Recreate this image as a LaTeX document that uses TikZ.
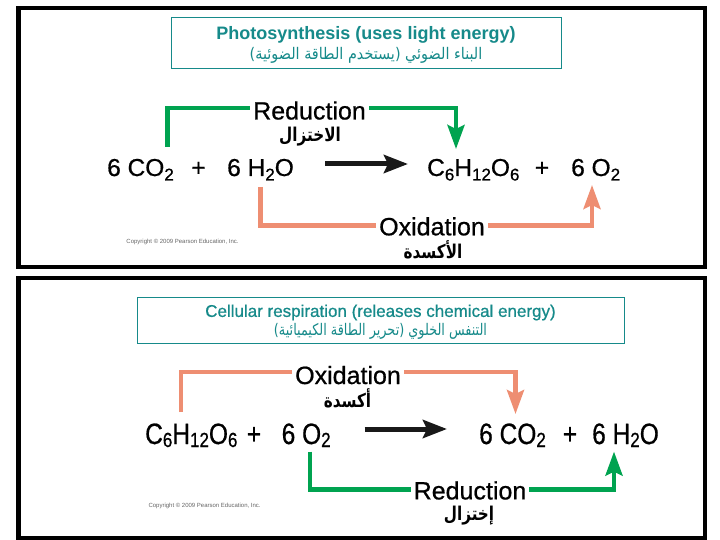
\documentclass[tikz,border=0pt]{standalone}
\usepackage{fontspec}
\setmainfont{Liberation Sans}
\newfontfamily\heavyfont[FakeBold=0.7]{Liberation Sans}
\newfontfamily\arabicfont[Script=Arabic]{DejaVu Sans}
\TeXXeTstate=1
\usetikzlibrary{arrows.meta}
\definecolor{tealc}{RGB}{22,138,138}
\definecolor{grn}{RGB}{0,163,80}
\definecolor{sal}{RGB}{238,142,114}
\newcommand\sbs[1]{\raisebox{-4.5pt}{\fontsize{17}{17}\selectfont #1}}
\newcommand\sbb[1]{\raisebox{-2.5pt}{\fontsize{17}{17}\selectfont #1}}
\newcommand\tallrow[1]{\scalebox{1}[1.2]{#1}}
\newcommand\narrow[2]{\scalebox{#1}[1]{#2}}
\begin{document}
\begin{tikzpicture}[x=1pt,y=-1pt,
  frame/.style={draw=black,line width=4.5pt},
  titlebox/.style={draw=tealc,line width=1pt,rectangle,inner sep=0},
  titleen/.style={text=tealc,inner sep=0,font=\fontsize{18}{20}\selectfont\bfseries},
  titleen2/.style={text=tealc,inner sep=0,font=\heavyfont\fontsize{17}{20}\selectfont},
  titlear/.style={text=tealc,inner sep=0,font=\fontsize{16}{18}\selectfont\arabicfont},
  eq/.style={inner sep=0,anchor=base west,font=\heavyfont\fontsize{24.5}{28}\selectfont},
  plus/.style={inner sep=0,anchor=base,font=\heavyfont\fontsize{24.5}{28}\selectfont},
  lab/.style={inner sep=0,inner xsep=3pt,inner ysep=1pt,fill=white,anchor=base,font=\heavyfont\fontsize{25}{28}\selectfont},
  arlab/.style={inner sep=0,font=\fontsize{19}{22}\selectfont\arabicfont\bfseries},
  copy/.style={inner sep=0,text=black!60,font=\fontsize{6}{7}\selectfont},
  grnline/.style={draw=grn,line width=4.5pt,-{Stealth[width=17pt,length=24pt,inset=4pt]}},
  salline/.style={draw=sal,line width=4.5pt,-{Stealth[width=17pt,length=24pt,inset=4pt]}},
  mainarrow/.style={draw=black!90,line width=5pt,-{Stealth[width=18pt,length=24pt,inset=4pt]}}
]
\useasboundingbox[fill=white] (0,0) rectangle (720,540);

% ---------- top panel ----------
\draw[frame] (18.5,8) rectangle (705,267);
\node[titlebox,minimum width=390pt,minimum height=51pt] (tb1) at (366,43.5) {};
\node[titleen] (t1en) at (366,34.5) {Photosynthesis (uses light energy)};
\node[titlear] (t1ar) at (366,55) {\narrow{0.9}{\beginR البناء الضوئي (يستخدم الطاقة الضوئية)\endR}};

\node[eq] (co2a) at (107,176) {6 CO\sbs{2}};
\node[plus] (p1) at (198.5,176) {+};
\node[eq] (h2oa) at (227,176) {6 H\sbs{2}O};
\node[eq] (glua) at (427,176) {C\sbs{6}H\sbs{12}O\sbs{6}};
\node[plus] (p2) at (542,176) {+};
\node[eq] (o2a) at (571,176) {6 O\sbs{2}};
\coordinate (ma1) at (325,164);
\coordinate (mb1) at (408,164);
\draw[mainarrow] (ma1) -- (mb1);

\coordinate (g1s) at (167.5,147);
\coordinate (g1e) at (456,149);
\draw[grnline] (g1s) |- (g1e |- 0,108) -- (g1e);
\node[lab] (red1) at (309.5,119.5) {Reduction};
\node[arlab] (red1ar) at (310,136.5) {\narrow{0.8}{\beginR الاختزال\endR}};

\coordinate (s1s) at (260.5,187);
\coordinate (s1e) at (592,185);
\draw[salline] (s1s) |- (s1e |- 0,225.5) -- (s1e);
\node[lab] (ox1) at (432,235.3) {Oxidation};
\node[arlab] (ox1ar) at (433,250) {\narrow{0.8}{\beginR الأكسدة\endR}};

\node[copy] (cp1) at (182.5,241.5) {Copyright © 2009 Pearson Education, Inc.};

% ---------- bottom panel ----------
\draw[frame] (18.5,278) rectangle (705,538);
\node[titlebox,minimum width=487pt,minimum height=46pt] (tb2) at (380.5,320.6) {};
\node[titleen2] (t2en) at (380.5,312.5) {Cellular respiration (releases chemical energy)};
\node[titlear] (t2ar) at (380.5,331) {\narrow{0.8}{\beginR التنفس الخلوي (تحرير الطاقة الكيميائية)\endR}};

\node[eq] (glub) at (145,444) {\tallrow{C\sbb{6}H\sbb{12}O\sbb{6}}};
\node[plus] (p3) at (254,444) {\tallrow{+}};
\node[eq] (o2b) at (281.5,444) {\tallrow{6 O\sbb{2}}};
\node[eq] (co2b) at (479,444) {\tallrow{6 CO\sbb{2}}};
\node[plus] (p4) at (570,444) {\tallrow{+}};
\node[eq] (h2ob) at (592,444) {\tallrow{6 H\sbb{2}O}};
\coordinate (ma2) at (364.5,429);
\coordinate (mb2) at (447,429);
\draw[mainarrow] (ma2) -- (mb2);

\coordinate (s2s) at (181,412);
\coordinate (s2e) at (515.5,414);
\draw[salline] (s2s) |- (s2e |- 0,372) -- (s2e);
\node[lab] (ox2) at (348,384) {Oxidation};
\node[arlab] (ox2ar) at (347.5,398) {\narrow{0.8}{\beginR أكسدة\endR}};

\coordinate (g2s) at (310,451.6);
\coordinate (g2e) at (614,451.6);
\draw[grnline] (g2s) |- (g2e |- 0,489.6) -- (g2e);
\node[lab] (red2) at (470,499.4) {Reduction};
\node[arlab] (red2ar) at (469,515.6) {\narrow{0.8}{\beginR إختزال\endR}};

\node[copy] (cp2) at (204.6,506) {Copyright © 2009 Pearson Education, Inc.};
\end{tikzpicture}
\end{document}
